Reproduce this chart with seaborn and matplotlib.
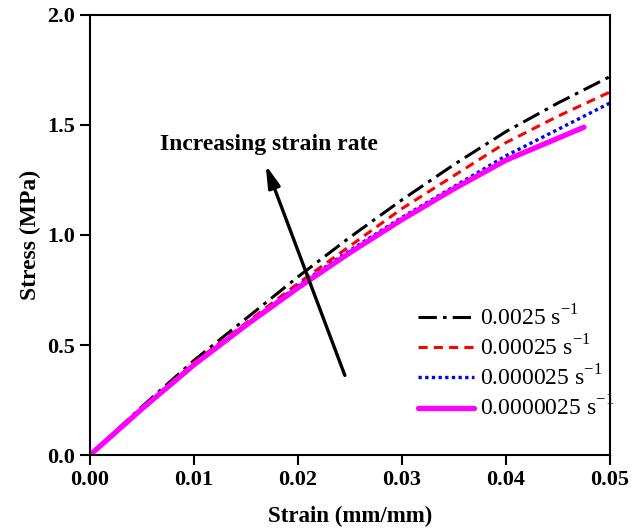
import matplotlib
matplotlib.use("Agg")
import matplotlib.pyplot as plt
import seaborn as sns
import pandas as pd

sns.set_theme(style="ticks")
plt.rcParams['font.family'] = ['Liberation Serif', 'DejaVu Serif']
plt.rcParams['mathtext.fontset'] = 'custom'
plt.rcParams['mathtext.rm'] = 'Liberation Serif'
plt.rcParams['text.color'] = 'black'
plt.rcParams['axes.labelcolor'] = 'black'

strain_full = [0.0, 0.005, 0.01, 0.015, 0.02, 0.025, 0.03, 0.035, 0.04, 0.045, 0.05]
stress_0025 = [0.0, 0.22, 0.43, 0.62, 0.81, 0.99, 1.16, 1.32, 1.47, 1.60, 1.72]
stress_00025 = [0.0, 0.21, 0.42, 0.60, 0.78, 0.95, 1.12, 1.27, 1.42, 1.54, 1.65]
stress_000025 = [0.0, 0.21, 0.41, 0.59, 0.77, 0.93, 1.08, 1.22, 1.36, 1.48, 1.60]
strain_short = [0.0, 0.005, 0.01, 0.015, 0.02, 0.025, 0.03, 0.035, 0.04, 0.045, 0.0475]
stress_0000025 = [0.0, 0.21, 0.41, 0.59, 0.76, 0.92, 1.07, 1.21, 1.34, 1.44, 1.49]

labels = ["0.0025 s$^{\\mathregular{-1}}$", "0.00025 s$^{\\mathregular{-1}}$",
          "0.000025 s$^{\\mathregular{-1}}$", "0.0000025 s$^{\\mathregular{-1}}$"]

frames = []
for lab, xs, ys in zip(labels, [strain_full, strain_full, strain_full, strain_short],
                       [stress_0025, stress_00025, stress_000025, stress_0000025]):
    frames.append(pd.DataFrame({"strain": xs, "stress": ys, "rate": lab}))
df = pd.concat(frames, ignore_index=True)

fig = plt.figure(figsize=(6.32, 5.31), dpi=100)
ax = fig.add_axes([0.1424, 0.1431, 0.8228, 0.8287])

styles = [
    dict(color="black", linestyle=(0, (6, 2, 1.2, 2)), linewidth=2.2),
    dict(color="red", linestyle=(0, (3, 2)), linewidth=2.2),
    dict(color="blue", linestyle=(0, (1, 1)), linewidth=2.4),
    dict(color="magenta", linestyle="-", linewidth=3.8),
]
for lab, st in zip(labels, styles):
    sub = df[df["rate"] == lab]
    sns.lineplot(data=sub, x="strain", y="stress", ax=ax, label=lab, **st)

ax.set_xlim(0, 0.05)
ax.set_ylim(0, 2.0)
ax.set_xticks([0.0, 0.01, 0.02, 0.03, 0.04, 0.05])
ax.set_xticklabels(["0.00", "0.01", "0.02", "0.03", "0.04", "0.05"])
ax.set_yticks([0.0, 0.5, 1.0, 1.5, 2.0])
ax.set_yticklabels(["0.0", "0.5", "1.0", "1.5", "2.0"])
for lbl in ax.get_xticklabels() + ax.get_yticklabels():
    lbl.set_fontweight("bold")
    lbl.set_fontsize(16)
    lbl.set_color("black")
ax.tick_params(direction="out", length=7, width=1.5, colors="black", pad=4)
for sp in ax.spines.values():
    sp.set_linewidth(1.5)
    sp.set_color("black")
    sp.set_visible(True)

ax.set_xlabel("Strain (mm/mm)", fontsize=16.5, fontweight="bold", labelpad=11)
ax.set_ylabel("Stress (MPa)", fontsize=17, fontweight="bold", labelpad=4)

ax.annotate("", xy=(0.0168, 1.33), xytext=(0.0246, 0.35),
            arrowprops=dict(arrowstyle="-|>,head_length=1.1,head_width=0.3",
                            color="black", lw=2.4))
ax.text(0.0172, 1.41, "Increasing strain rate", fontsize=17, fontweight="bold",
        ha="center", va="center", color="black")

leg = ax.legend(loc="upper left", bbox_to_anchor=(0.63, 0.34), frameon=False,
                fontsize=17, handlelength=2.4, handletextpad=0.25, labelspacing=0.2,
                borderaxespad=0, borderpad=0)
for t in leg.get_texts():
    t.set_color("black")

fig.savefig("out.png", dpi=100)
